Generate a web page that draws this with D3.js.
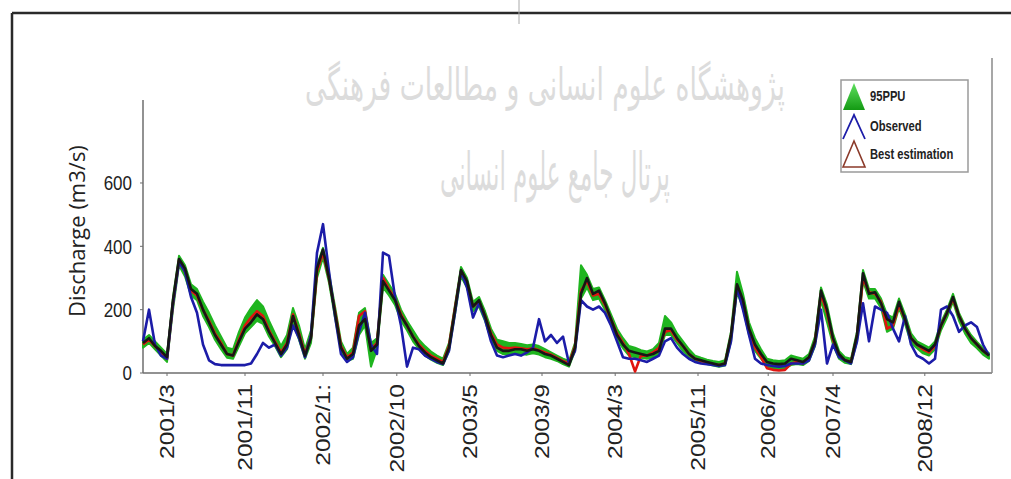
<!DOCTYPE html>
<html>
<head>
<meta charset="utf-8">
<script src="https://cdn.jsdelivr.net/npm/d3@7"></script>
<style>
  html, body { margin: 0; padding: 0; background: #fff; }
  svg { display: block; }
</style>
</head>
<body>
<svg id="chart" width="1011" height="479"></svg>
<script>
// Monthly-step discharge series (m3/s), one value per sample index
const observed = [
  100,200,90,55,45,220,350,320,240,190,
  90,40,28,25,25,25,25,25,30,60,
  95,80,90,55,80,150,110,50,120,380,
  470,320,180,60,35,50,130,190,90,60,
  380,370,240,150,20,80,75,55,45,35,
  28,70,190,320,270,175,220,170,100,55,
  50,55,60,55,65,80,170,100,120,95,
  115,30,70,230,210,200,210,190,150,100,
  50,45,45,40,35,45,55,100,110,80,
  60,45,35,30,28,25,22,25,100,270,
  200,120,45,30,25,22,20,22,30,30,
  30,40,90,200,30,90,50,40,30,100,
  220,100,210,200,190,140,100,180,90,55,
  45,30,45,200,210,180,130,150,160,145,
  90,55
];
const bestEstimation = [
  90,105,85,65,45,220,355,320,260,245,
  200,165,125,95,60,55,105,150,175,195,
  180,135,100,65,95,185,125,60,115,320,
  380,300,195,85,50,65,180,195,75,95,
  300,265,235,185,150,115,90,70,55,45,
  35,85,205,320,285,210,225,180,125,90,
  80,78,80,78,75,78,72,65,58,48,
  38,30,85,260,290,245,250,215,170,125,
  95,60,5,55,55,65,80,130,135,105,
  85,60,45,38,32,28,25,30,115,275,
  225,135,80,50,15,10,8,10,30,35,
  30,45,100,250,190,105,55,40,35,115,
  300,255,250,225,140,150,215,170,110,90,
  75,65,85,150,190,235,180,140,110,90,
  70,55
];
const simulated = [
  95,110,85,70,50,230,360,330,265,250,
  200,160,120,90,60,55,100,140,160,185,
  170,130,95,60,90,180,120,55,110,330,
  390,300,190,80,45,60,150,170,70,90,
  290,260,230,180,150,115,85,65,50,40,
  30,80,200,325,290,210,230,180,120,80,
  70,70,75,75,70,75,70,60,55,45,
  35,25,80,250,300,250,260,220,170,120,
  90,70,65,60,55,60,70,140,140,110,
  85,60,45,40,35,30,25,30,120,280,
  230,140,90,60,35,30,28,30,45,40,
  35,50,100,260,200,110,60,40,35,120,
  315,250,255,220,170,160,225,170,110,90,
  80,70,90,150,190,240,180,140,110,90,
  70,55
];
// 95PPU band limits
const ppuUpper = [
  105,120,100,80,60,240,370,340,280,265,
  225,190,150,115,80,75,130,175,205,230,
  210,165,125,85,120,205,150,75,135,340,
  395,315,210,100,60,80,190,205,95,110,
  310,280,250,200,165,135,105,85,68,55,
  45,95,215,335,300,225,240,195,140,105,
  100,95,95,92,88,90,85,75,65,55,
  45,38,95,340,310,265,270,230,185,140,
  110,85,80,72,68,75,95,180,160,125,
  100,75,55,48,42,38,35,40,130,320,
  250,160,110,75,45,40,38,40,55,50,
  45,60,115,270,215,125,70,50,45,130,
  325,265,265,235,185,175,235,185,125,100,
  90,80,100,160,200,250,190,150,120,98,
  78,62
];
const ppuLower = [
  80,95,75,55,35,200,340,305,245,230,
  180,145,105,75,48,45,85,125,145,165,
  155,115,85,50,75,160,105,45,95,300,
  365,285,175,70,38,45,120,150,20,75,
  270,245,215,165,135,100,75,55,42,32,
  25,70,185,305,270,195,210,165,105,70,
  60,60,62,60,58,62,58,50,45,38,
  28,20,70,235,270,230,235,200,155,105,
  78,55,50,48,45,50,60,120,120,95,
  70,50,38,32,28,24,20,24,100,255,
  205,120,70,45,20,15,12,15,25,28,
  25,38,85,230,160,90,45,32,28,100,
  290,235,235,205,130,140,205,155,95,78,
  62,55,75,135,175,225,165,125,95,78,
  58,45
];
const tickLabels = ["2001/3","2001/11","2002/1:","2002/10","2003/5","2003/9","2004/3","2005/11","2006/2","2007/4","2008/12"];
const tickIndex = [4,17,30,42.3,54.5,66.5,78.7,92.5,104.2,115,130.3];
const yTicks = [0,200,400,600];
const legendLabels = ["95PPU","Observed","Best estimation"];

const svg = d3.select("#chart");
const plot = { left: 143, right: 992, top: 100, bottom: 373 };

const x = d3.scaleLinear().domain([0, observed.length - 1]).range([plot.left, 989]);
const y = d3.scaleLinear().domain([0, 862]).range([plot.bottom, plot.top]);

// Page frame
svg.append("line").attr("x1", 12).attr("x2", 1011).attr("y1", 13).attr("y2", 13)
  .attr("stroke", "#2a2a2a").attr("stroke-width", 2.5);
svg.append("line").attr("x1", 12).attr("x2", 12).attr("y1", 13).attr("y2", 479)
  .attr("stroke", "#2a2a2a").attr("stroke-width", 2.5);
svg.append("line").attr("x1", 519).attr("x2", 519).attr("y1", 0).attr("y2", 24)
  .attr("stroke", "#aaa").attr("stroke-width", 1);

// Watermark text
const wm = svg.append("g").attr("fill", "#dcdcdc")
  .style("font-family", "'DejaVu Sans', sans-serif");
function fitText(sel, cx, cy, width) {
  const w = sel.node().getComputedTextLength();
  sel.attr("text-anchor", "middle")
     .attr("transform", `translate(${cx},${cy}) scale(${width / w},1.3)`);
}
const wm1 = wm.append("text").attr("font-size", 34).attr("direction", "rtl")
  .text("پژوهشگاه علوم انسانی و مطالعات فرهنگی");
fitText(wm1, 545, 100, 480);
const wm2 = wm.append("text").attr("font-size", 40).attr("direction", "rtl")
  .text("پرتال جامع علوم انسانی");
fitText(wm2, 555, 190, 230);

// Axes lines
const axisColor = "#6e6e6e";
svg.append("line").attr("x1", plot.left).attr("x2", plot.left)
  .attr("y1", plot.top).attr("y2", plot.bottom).attr("stroke", axisColor).attr("stroke-width", 1.5);
svg.append("line").attr("x1", plot.left).attr("x2", plot.right)
  .attr("y1", plot.bottom).attr("y2", plot.bottom).attr("stroke", axisColor).attr("stroke-width", 1.5);
svg.append("line").attr("x1", plot.right).attr("x2", plot.right)
  .attr("y1", 58).attr("y2", plot.bottom).attr("stroke", "#8a8a8a").attr("stroke-width", 1.5);

// Y ticks and labels
const yAxis = svg.append("g");
yTicks.forEach(v => {
  yAxis.append("line").attr("x1", plot.left - 3).attr("x2", plot.left)
    .attr("y1", y(v)).attr("y2", y(v)).attr("stroke", axisColor);
  yAxis.append("text")
    .attr("transform", `translate(132,${y(v)}) scale(0.85,1)`)
    .attr("text-anchor", "end").attr("dy", "0.36em")
    .style("font-family", "'Liberation Sans', Arial, sans-serif")
    .style("font-size", "20px").attr("fill", "#222")
    .text(v);
});
svg.append("text")
  .attr("transform", "translate(85,231) rotate(-90)")
  .attr("text-anchor", "middle")
  .style("font-family", "'Open Sans', sans-serif")
  .style("font-size", "22px").attr("fill", "#222")
  .text("Discharge (m3/s)");

// X ticks and labels
const xAxis = svg.append("g");
tickLabels.forEach((t, i) => {
  const px = x(tickIndex[i]);
  xAxis.append("line").attr("x1", px).attr("x2", px)
    .attr("y1", plot.bottom).attr("y2", plot.bottom + 3).attr("stroke", axisColor);
  xAxis.append("text")
    .attr("transform", `translate(${px},384) rotate(-90) scale(1,0.8)`)
    .attr("text-anchor", "end").attr("dy", "0.36em")
    .style("font-family", "'Liberation Sans', Arial, sans-serif")
    .style("font-size", "24.5px").attr("fill", "#222")
    .text(t);
});

// 95PPU band
const idx = d3.range(observed.length);
const band = d3.area()
  .x(i => x(i)).y0(i => y(ppuLower[i])).y1(i => y(ppuUpper[i]));
svg.append("path").datum(idx).attr("d", band)
  .attr("fill", "#1fb51f").attr("stroke", "#1fb51f").attr("stroke-width", 2)
  .attr("stroke-linejoin", "round");

const line = arr => d3.line().x((d, i) => x(i)).y(d => y(d))(arr);
const drawLine = (arr, color) => svg.append("path").attr("d", line(arr))
  .attr("fill", "none").attr("stroke", color).attr("stroke-width", 2.6)
  .attr("stroke-linejoin", "round");
drawLine(bestEstimation, "#e0140f");
drawLine(observed, "#1c1ca8");
drawLine(simulated, "#161616");

// Legend
const lg = svg.append("g");
lg.append("rect").attr("x", 841).attr("y", 80).attr("width", 127).attr("height", 92)
  .attr("fill", "#fff").attr("stroke", "#9a9a9a").attr("stroke-width", 1.5);
const grad = svg.append("defs").append("linearGradient").attr("id", "tri")
  .attr("x1", 0).attr("x2", 0).attr("y1", 0).attr("y2", 1);
grad.append("stop").attr("offset", "0%").attr("stop-color", "#5fe05f");
grad.append("stop").attr("offset", "100%").attr("stop-color", "#139a13");
const rows = [96, 126, 154];
lg.append("path").attr("d", "M843,110 L854,83 L865,110 Z").attr("fill", "url(#tri)");
lg.append("path").attr("d", "M843,139 L854,115 L865,139")
  .attr("fill", "none").attr("stroke", "#1c1ca8").attr("stroke-width", 1.8);
lg.append("path").attr("d", "M843,167 L854,141 L865,167 Z")
  .attr("fill", "none").attr("stroke", "#8b3a2a").attr("stroke-width", 1.6);
legendLabels.forEach((t, i) => {
  lg.append("text")
    .attr("transform", `translate(870,${rows[i]}) scale(0.8,1)`)
    .attr("dy", "0.36em")
    .style("font-family", "'Liberation Sans', Arial, sans-serif")
    .style("font-size", "14px").style("font-weight", "bold").attr("fill", "#222")
    .text(t);
});
</script>
</body>
</html>
